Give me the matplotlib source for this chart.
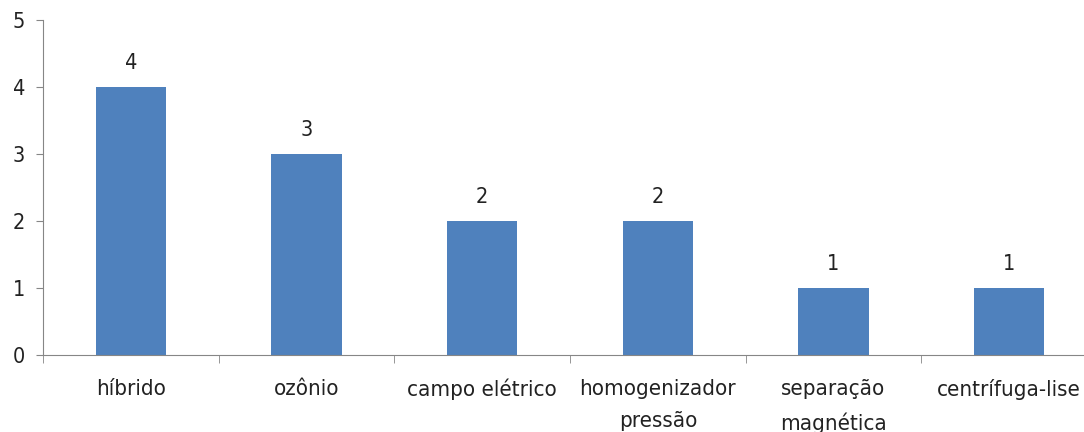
import matplotlib.pyplot as plt
import numpy as np

categories = ['híbrido', 'ozônio', 'campo elétrico', 'homogenizador\npressão',
              'separação\nmagnética', 'centrífuga-lise']
values = [4, 3, 2, 2, 1, 1]

plt.rcParams['font.family'] = 'DejaVu Sans'
plt.rcParams['font.stretch'] = 'condensed'

fig = plt.figure(figsize=(10.84, 4.32), dpi=100)
# the plot area runs a little past the right edge of the picture
ax = fig.add_axes([43 / 1084, 1 - 355 / 432, 1054 / 1084, 335 / 432])

x = np.arange(len(categories))
bars = ax.bar(x, values, width=0.40, color='#4F81BD')
for b, v in zip(bars, values):
    ax.annotate(str(v), (b.get_x() + b.get_width() / 2, v), xytext=(0, 10),
                textcoords='offset points', ha='center', va='bottom', fontsize=15.5,
                color='#222222')

ax.set_xlim(-0.5, len(categories) - 0.5)
ax.set_ylim(0, 5)
ax.set_yticks(range(6))
ax.set_xticks(x)
ax.set_xticklabels(categories, fontsize=16, linespacing=1.8, va='top', color='#222222')
ax.tick_params(axis='x', length=0, pad=17)
ax.set_xticks(np.arange(-0.5, len(categories), 1), minor=True)
ax.tick_params(axis='x', which='minor', length=6, color='#868686')
ax.tick_params(axis='y', labelsize=15.5, length=5, color='#868686', pad=8,
               labelcolor='#222222')

for s in ['top', 'right']:
    ax.spines[s].set_visible(False)
for s in ['left', 'bottom']:
    ax.spines[s].set_color('#868686')

fig.savefig('out.png', dpi=100)
